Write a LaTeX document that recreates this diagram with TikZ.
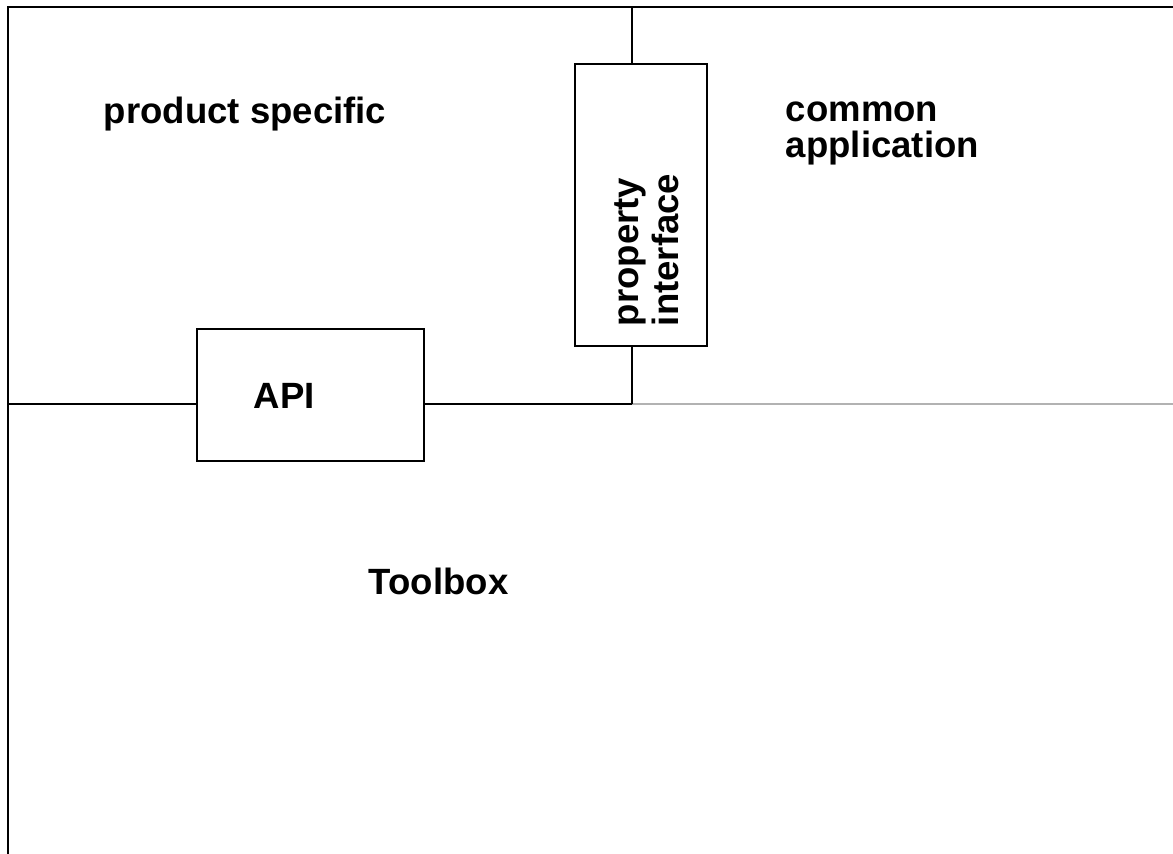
\documentclass[tikz,border=0pt]{standalone}
\usepackage{fontspec}
\setmainfont{Liberation Sans}

\begin{document}
\begin{tikzpicture}[x=0.02cm, y=-0.02cm, line width=1.1pt,
        lbl/.style={font=\bfseries\fontsize{20.8}{21.6}\selectfont, inner sep=0pt, anchor=base west, align=left},
        box/.style={draw, inner sep=0pt}]
    % keep the page the size of the reference
    \useasboundingbox (0,0) rectangle (1173,854);

    % corners and junctions
    \coordinate (tl) at (8,7);
    \coordinate (tr) at (1173,7);
    \coordinate (bl) at (8,854);
    \coordinate (ml) at (8,404);
    \coordinate (mr) at (1173,404);
    \coordinate (top) at (632,7);
    \coordinate (j) at (632,404);

    % the two boxes
    \node[box, minimum width=4.54cm, minimum height=2.64cm] (api) at (310.5,395) {};
    \node[box, minimum width=2.64cm, minimum height=5.64cm] (prop) at (641,205) {};

    % outer frame
    \draw (bl) -- (tl) -- (tr);

    % dividing lines
    \draw (ml) -- (ml -| api.west);
    \draw (ml -| api.east) -- (j);
    \draw[black!30] (j) -- (mr);
    \draw (top) -- (top |- prop.north);
    \draw (top |- prop.south) -- (j);

    % labels
    \node[lbl] (prod) at (103,124) {product specific};
    \node[lbl, font=\bfseries\fontsize{20.8}{20.5}\selectfont] (common) at (785,158) {common\\application};
    \node[lbl] (apitext) at (253,409) {API};
    \node[lbl] (tool) at (368,594) {Toolbox};
    \node[lbl, rotate=90, font=\bfseries\fontsize{20.8}{22.5}\selectfont] (proptext) at (678,327) {property\\interface};
\end{tikzpicture}
\end{document}
